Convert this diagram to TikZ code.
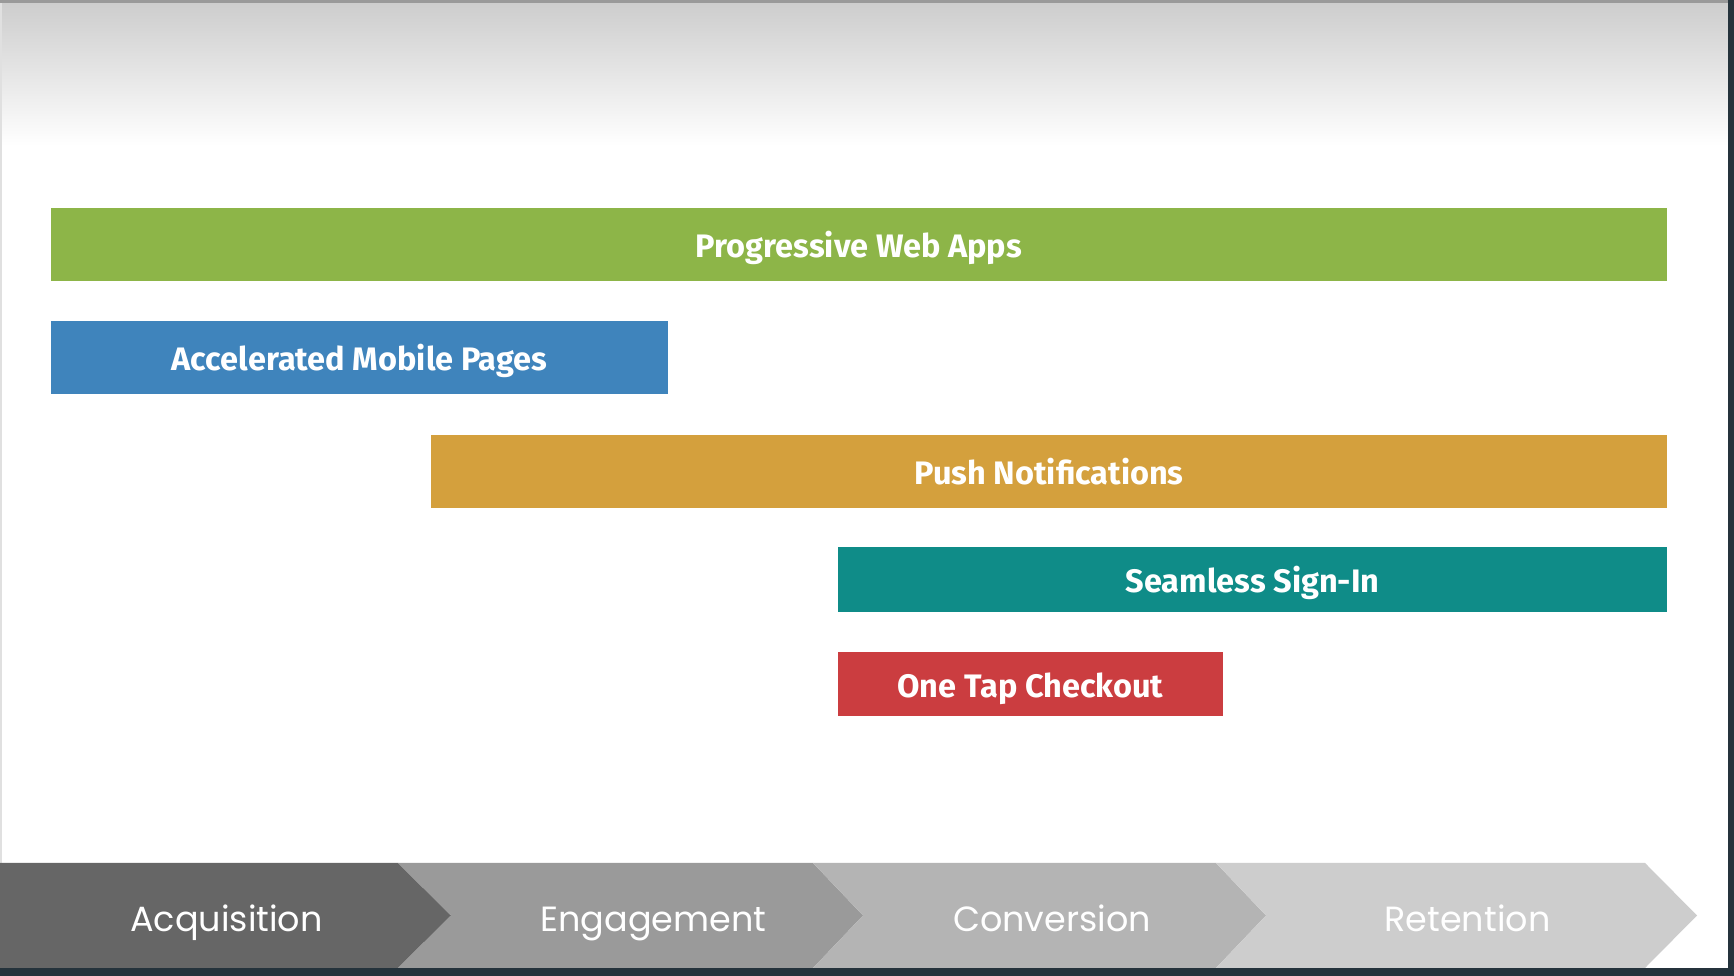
\documentclass[tikz,border=0pt]{standalone}
\usepackage{fontspec}
\newfontfamily\barfont{Fira Sans}
\newfontfamily\stagefont{Poppins}

\definecolor{pwagreen}{HTML}{8DB548}
\definecolor{ampblue}{HTML}{3F84BC}
\definecolor{pushorange}{HTML}{D4A03D}
\definecolor{signteal}{HTML}{0F8C88}
\definecolor{payred}{HTML}{CB3D40}
\definecolor{frameslate}{HTML}{25333C}
\definecolor{stageA}{HTML}{666666}
\definecolor{stageB}{HTML}{9A9A9A}
\definecolor{stageC}{HTML}{B4B4B4}
\definecolor{stageD}{HTML}{CDCDCD}

\tikzset{
  featurebar/.style={rectangle, inner sep=0pt, text=white,
    font=\barfont\bfseries\fontsize{32.5}{32.5}\selectfont,
    text height=26.4pt, text depth=0pt, minimum height=73pt},
  stagelabel/.style={inner sep=0pt, text=white,
    font=\stagefont\fontsize{35}{35}\selectfont,
    text height=30.4pt, text depth=0pt}
}

\begin{document}
\begin{tikzpicture}[x=1pt,y=1pt]
\useasboundingbox (0,0) rectangle (1734,976);
\fill[white] (0,0) rectangle (1734,976);
% soft grey fade along the top edge
\shade[top color=black!20, bottom color=white] (0,830) rectangle (1734,976);
\fill[black!40] (0,973) rectangle (1734,976);
\fill[black!12] (0,8) rectangle (2,973);

% feature bars
\node[featurebar, fill=pwagreen, minimum width=1616pt] (pwa) at (859,731.5) {Progressive Web Apps};
\node[featurebar, fill=ampblue, minimum width=617pt] (amp) at (359.5,618.5) {Accelerated Mobile Pages};
\node[featurebar, fill=pushorange, minimum width=1236pt] (push) at (1049,504.5) {Push Notifications};
\node[featurebar, fill=signteal, minimum width=829pt, minimum height=65pt] (signin) at (1252.5,396.5) {Seamless Sign-In};
\node[featurebar, fill=payred, minimum width=385pt, minimum height=64pt] (checkout) at (1030.5,292) {One Tap Checkout};

% funnel stages
\fill[stageA] (0,8) -- (0,113) -- (398,113) -- (451,60.5) -- (398,8) -- cycle;
\fill[stageB] (398,113) -- (813,113) -- (863,60.5) -- (813,8) -- (398,8) -- (451,60.5) -- cycle;
\fill[stageC] (813,113) -- (1216,113) -- (1266,60.5) -- (1216,8) -- (813,8) -- (863,60.5) -- cycle;
\fill[stageD] (1216,113) -- (1645,113) -- (1697,60.5) -- (1645,8) -- (1216,8) -- (1266,60.5) -- cycle;

\node[stagelabel] (acq) at (226.5,60) {Acquisition};
\node[stagelabel] (eng) at (653.5,60) {Engagement};
\node[stagelabel] (conv) at (1052,60) {Conversion};
\node[stagelabel] (ret) at (1467.5,60) {Retention};

% dark frame on the right and bottom
\fill[frameslate] (1728,0) rectangle (1734,976);
\fill[frameslate] (0,0) rectangle (1734,8);
\end{tikzpicture}
\end{document}
